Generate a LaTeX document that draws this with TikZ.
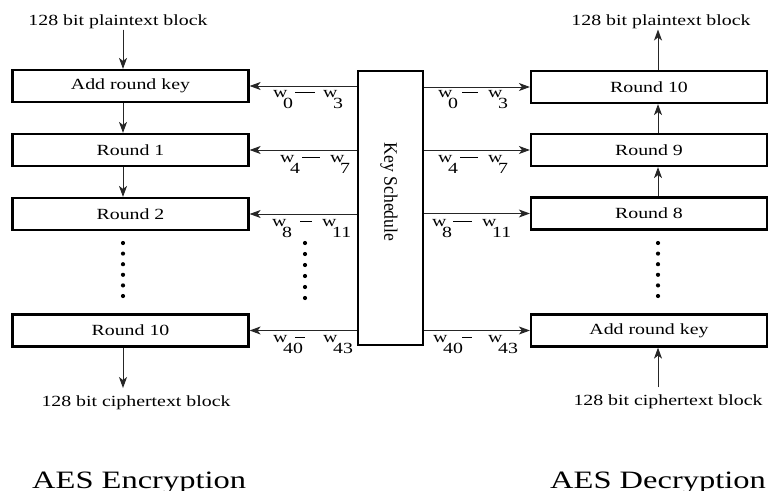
\documentclass[tikz,border=0pt]{standalone}
\usepackage{fontspec}
\setmainfont{Liberation Serif}[FakeStretch=1.28]
\newfontfamily\ksfont{Liberation Serif}[FakeStretch=0.93]
\newfontfamily\ttlfont{Liberation Serif}[FakeStretch=1.3]
\usetikzlibrary{arrows.meta}
\newcommand{\lbl}{\fontsize{15.5pt}{18pt}\selectfont}
% w_a -- w_b label: #1,#2 subscripts; #3,#4 dash start/end; #5 offset of second w
\newcommand{\wlab}[5]{%
  \rlap{w}%
  \rlap{\kern10pt\raisebox{-11pt}{#1}}%
  \rlap{\kern#3pt\rule[4pt]{\dimexpr#4pt-#3pt\relax}{0.9pt}}%
  \rlap{\kern#5pt w}%
  \kern\dimexpr#5pt+10pt\relax\raisebox{-11pt}{#2}}
\begin{document}
\begin{tikzpicture}[x=1pt,y=-1pt,
  blk/.style={draw, line width=2.2pt, minimum width=236pt, minimum height=32pt, inner sep=0pt, font=\lbl},
  lab/.style={inner sep=1pt, font=\lbl},
  wl/.style={inner sep=0pt, font=\lbl, anchor=base west},
  ttl/.style={anchor=base west, inner sep=0pt, font=\ttlfont\fontsize{25pt}{30pt}\selectfont},
  arr/.style={-{Stealth[length=11pt,width=8pt,inset=3pt]}, line width=1pt, draw=black!85, fill=black}]
\fill[white] (0,0) rectangle (768,490);
\useasboundingbox (0,0) rectangle (768,490);
% axes for vertical arrows
\coordinate (axL) at (123,0);
\coordinate (axR) at (658,0);
% encryption column
\node[blk] (L0) at (130.5,86) {Add round key};
\node[blk] (L1) at (130.5,150) {Round 1};
\node[blk] (L2) at (130.5,214) {Round 2};
\node[blk] (L3) at (130.5,330.5) {Round 10};
% decryption column
\node[blk] (R0) at (649,87) {Round 10};
\node[blk] (R1) at (649,150) {Round 9};
\node[blk] (R2) at (649,213.5) {Round 8};
\node[blk] (R3) at (649,330.5) {Add round key};
% key schedule
\node[draw, line width=2.2pt, minimum width=65pt, minimum height=274pt, inner sep=0pt] (ks) at (390.5,208) {};
\node[rotate=-90, inner sep=0pt, font=\ksfont\fontsize{19pt}{22pt}\selectfont] (kst) at (389,192) {Key Schedule};
% key arrows
\foreach \n in {L0,L1,L2,L3} \draw[arr] (ks.west |- \n) -- (\n.east);
\foreach \n in {R0,R1,R2,R3} \draw[arr] (ks.east |- \n) -- (\n.west);
% key labels
\node[wl] (wl0) at (273,97) {\wlab{0}{3}{22}{42}{50}};
\node[wl] (wl1) at (280,162) {\wlab{4}{7}{22}{40}{50}};
\node[wl] (wl2) at (272,226) {\wlab{8}{11}{28}{40}{50}};
\node[wl] (wl3) at (273,342) {\wlab{40}{43}{22}{32}{50}};
\node[wl] (wr0) at (438,97) {\wlab{0}{3}{24}{40}{50}};
\node[wl] (wr1) at (438,162) {\wlab{4}{7}{22}{40}{50}};
\node[wl] (wr2) at (432,226) {\wlab{8}{11}{21}{40}{50}};
\node[wl] (wr3) at (433,342) {\wlab{40}{43}{29}{39}{55}};
% plaintext / ciphertext labels and arrows
\node[lab, anchor=base] (ptL) at (118,25) {128 bit plaintext block};
\node[lab, anchor=base] (ctL) at (136,406) {128 bit ciphertext block};
\node[lab, anchor=base] (ptR) at (661,25) {128 bit plaintext block};
\node[lab, anchor=base] (ctR) at (668,405) {128 bit ciphertext block};
\draw[arr] (ptL.south -| axL) -- (L0.north -| axL);
\draw[arr] (L0.south -| axL) -- (L1.north -| axL);
\draw[arr] (L1.south -| axL) -- (L2.north -| axL);
\draw[arr, shorten >=6pt] (L3.south -| axL) -- (ctL.north -| axL);
\draw[arr] (R0.north -| axR) -- (ptR.south -| axR);
\draw[arr] (R1.north -| axR) -- (R0.south -| axR);
\draw[arr] (R2.north -| axR) -- (R1.south -| axR);
\draw[arr, shorten <=6pt] (ctR.north -| axR) -- (R3.south -| axR);
% vertical dots
\foreach \i in {0,...,5} {
  \fill (123,243+10.6*\i) circle (2.1);
  \fill (658,243+10.6*\i) circle (2.1);
  \fill (305,243+11*\i) circle (2.1);
}
% titles
\node[ttl] (te) at (32,488) {AES Encryption};
\node[ttl] (td) at (550,488) {AES Decryption};
\end{tikzpicture}
\end{document}
